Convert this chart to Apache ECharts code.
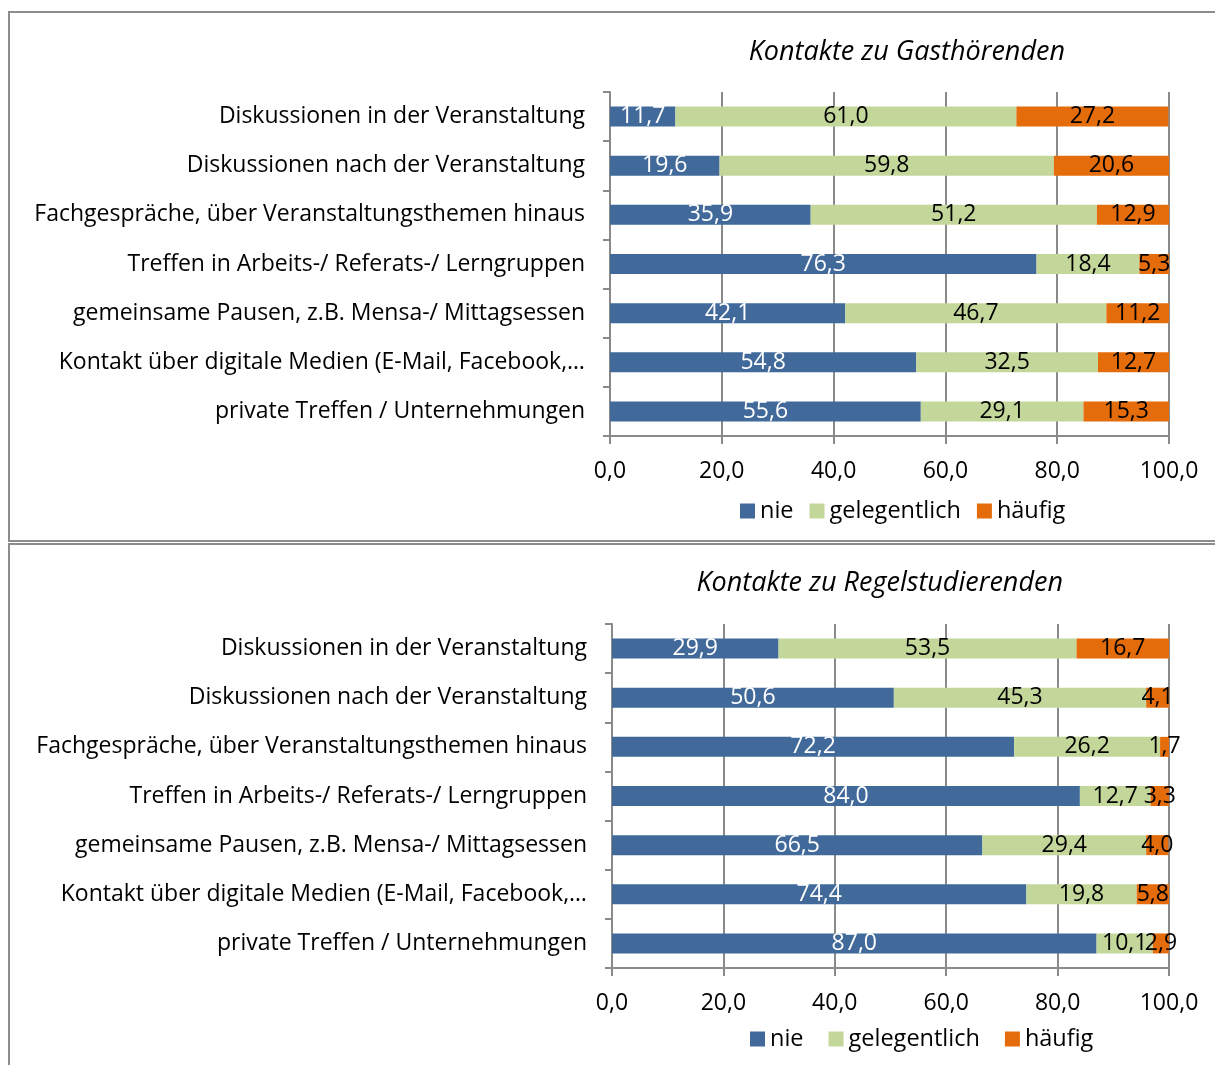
<!DOCTYPE html>
<html><head><meta charset="utf-8">
<script src="https://cdn.jsdelivr.net/npm/echarts@6/dist/echarts.min.js"></script>
<style>html,body{margin:0;padding:0;background:#fff}#c{width:1215px;height:1065px}</style>
</head><body><div id="c"></div>
<script>
const categories = [
  "Diskussionen in der Veranstaltung",
  "Diskussionen nach der Veranstaltung",
  "Fachgespräche, über Veranstaltungsthemen hinaus",
  "Treffen in Arbeits-/ Referats-/ Lerngruppen",
  "gemeinsame Pausen, z.B. Mensa-/ Mittagsessen",
  "Kontakt über digitale Medien (E-Mail, Facebook,…",
  "private Treffen / Unternehmungen"
];
const seriesNames = ["nie", "gelegentlich", "häufig"];
const titles = ["Kontakte zu Gasthörenden", "Kontakte zu Regelstudierenden"];
const gastNie = [11.7, 19.6, 35.9, 76.3, 42.1, 54.8, 55.6];
const gastGelegentlich = [61.0, 59.8, 51.2, 18.4, 46.7, 32.5, 29.1];
const gastHaeufig = [27.2, 20.6, 12.9, 5.3, 11.2, 12.7, 15.3];
const regelNie = [29.9, 50.6, 72.2, 84.0, 66.5, 74.4, 87.0];
const regelGelegentlich = [53.5, 45.3, 26.2, 12.7, 29.4, 19.8, 10.1];
const regelHaeufig = [16.7, 4.1, 1.7, 3.3, 4.0, 5.8, 2.9];

const colors = ["#416A9B", "#C4D79B", "#E46C0A"];
const labelColors = ["#ffffff", "#000000", "#000000"];
const FONT = "'Open Sans', 'Noto Sans', sans-serif";
const fmt = v => v.toFixed(1).replace('.', ',');
const gridCol = "#8a8a8a";

const grids = [
  {left: 610, right: 46, top: 92, height: 344},
  {left: 612, right: 46, top: 624, height: 344}
];
const data = [[gastNie, gastGelegentlich, gastHaeufig], [regelNie, regelGelegentlich, regelHaeufig]];

const xAxes = grids.map((g, i) => ({
  type: 'value', gridIndex: i, min: 0, max: 100, interval: 20,
  axisLine: {show: true, lineStyle: {color: gridCol, width: 2}},
  axisTick: {show: true, length: 8, lineStyle: {color: gridCol, width: 2}},
  splitLine: {show: true, lineStyle: {color: gridCol, width: 2}},
  axisLabel: {color: '#000', fontFamily: FONT, fontSize: 23, margin: 24, formatter: v => fmt(v)}
}));
const yAxes = grids.map((g, i) => ({
  type: 'category', gridIndex: i, data: categories, inverse: true,
  axisLine: {show: true, lineStyle: {color: gridCol, width: 2}},
  axisTick: {show: true, length: 7, alignWithLabel: false, lineStyle: {color: gridCol, width: 2}},
  axisLabel: {color: '#000', fontFamily: FONT, fontSize: 23, margin: 25}
}));

const series = [];
data.forEach((set, gi) => {
  set.forEach((vals, si) => {
    series.push({
      name: seriesNames[si], type: 'bar', stack: 's' + gi,
      xAxisIndex: gi, yAxisIndex: gi, barWidth: 20,
      data: vals,
      itemStyle: {color: colors[si]},
      label: {show: true, position: 'inside', color: labelColors[si], fontFamily: FONT, fontSize: 23,
        formatter: p => fmt(p.value)},
      emphasis: {disabled: true}
    });
  });
});

const legendText = {fontFamily: FONT, fontSize: 23.5, color: '#000'};
const chart = echarts.init(document.getElementById('c'));
chart.setOption({
  animation: false,
  backgroundColor: '#fff',
  title: [
    {text: titles[0], right: 145, top: 34, textStyle: {fontFamily: FONT, fontSize: 27, fontStyle: 'italic', fontWeight: 'normal', color: '#000'}},
    {text: titles[1], right: 147, top: 565, textStyle: {fontFamily: FONT, fontSize: 27, fontStyle: 'italic', fontWeight: 'normal', color: '#000'}}
  ],
  legend: [
    {data: seriesNames.map((n, i) => ({name: n, itemStyle: {color: colors[i]}})), left: 735, top: 494, itemWidth: 15, itemHeight: 15, itemGap: 16, icon: 'rect',
     textStyle: legendText, selectedMode: false},
    {data: seriesNames.map((n, i) => ({name: n, itemStyle: {color: colors[i]}})), left: 745, top: 1022, itemWidth: 15, itemHeight: 15, itemGap: 25, icon: 'rect',
     textStyle: legendText, selectedMode: false}
  ],
  grid: grids,
  xAxis: xAxes,
  yAxis: yAxes,
  series: series,
  graphic: [
    {type: 'rect', shape: {x: 9, y: 12, width: 1220, height: 529}, style: {fill: 'none', stroke: '#8c8c8c', lineWidth: 2}, silent: true},
    {type: 'rect', shape: {x: 9, y: 544, width: 1220, height: 530}, style: {fill: 'none', stroke: '#8c8c8c', lineWidth: 2}, silent: true}
  ]
});
</script></body></html>
